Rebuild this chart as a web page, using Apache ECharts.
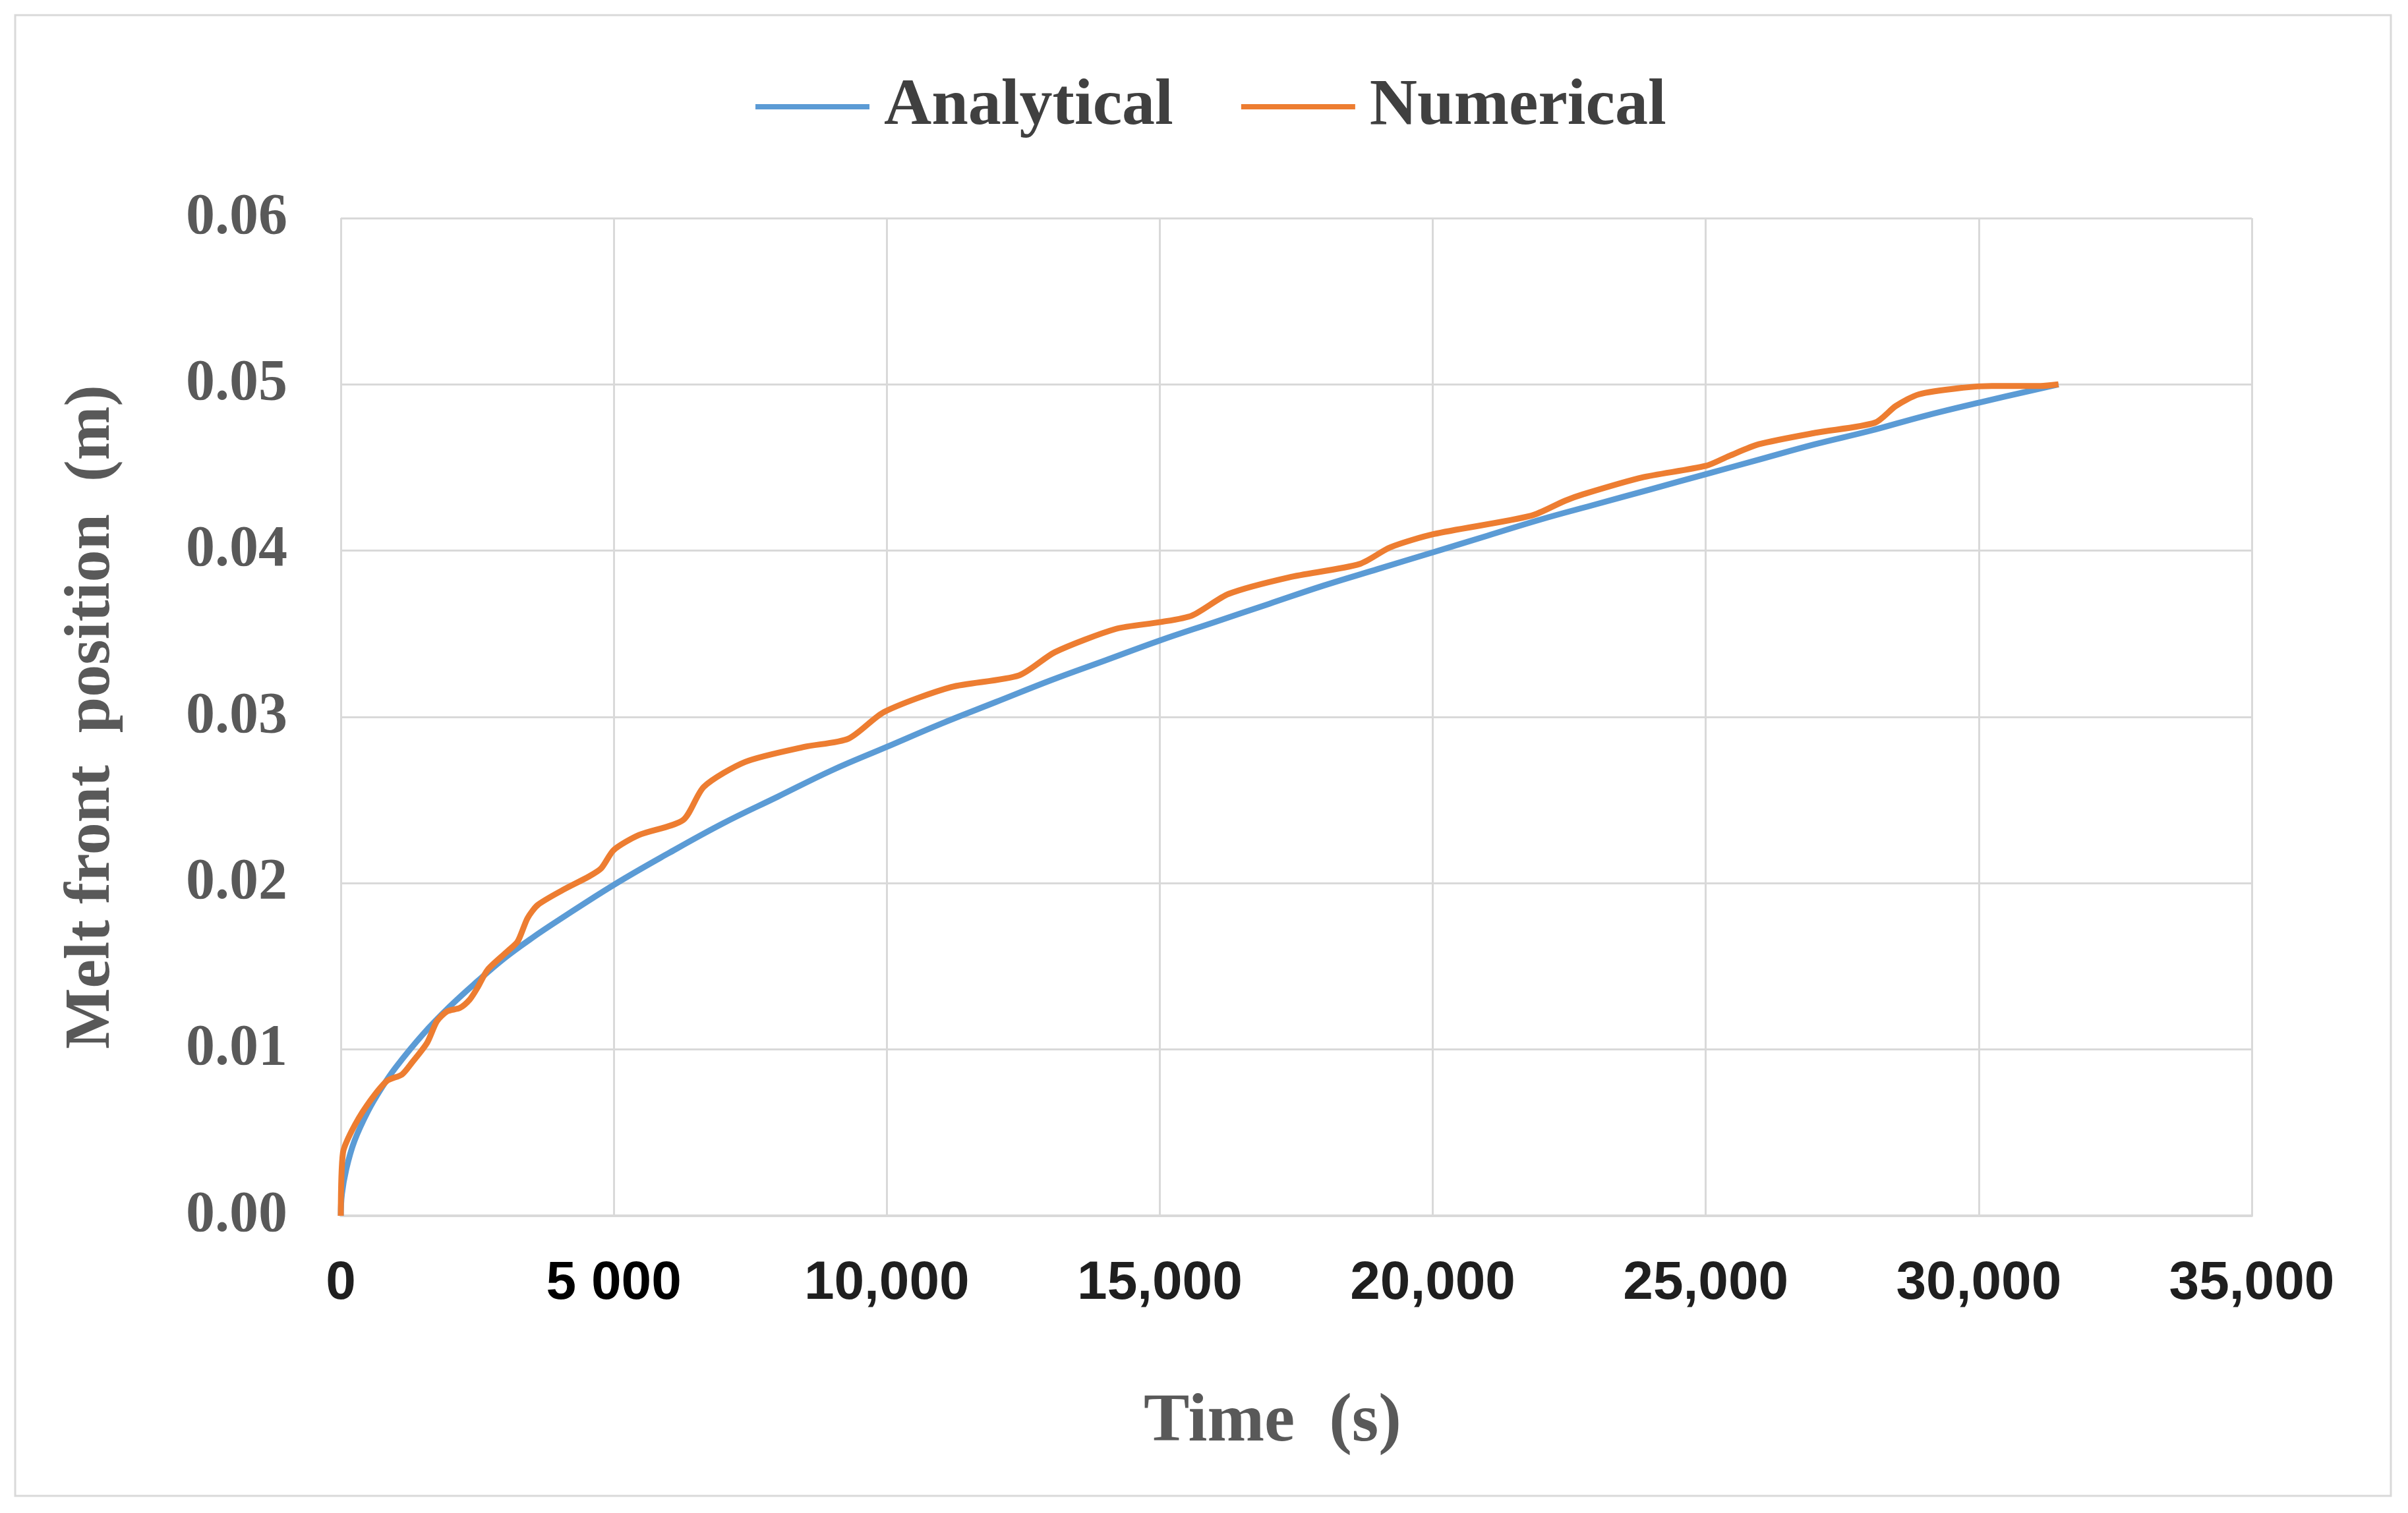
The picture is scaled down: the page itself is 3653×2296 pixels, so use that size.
<!DOCTYPE html>
<html>
<head>
<meta charset="utf-8">
<script src="https://cdn.jsdelivr.net/npm/echarts@6/dist/echarts.min.js"></script>
<style>
html,body{margin:0;padding:0;background:#fff;}
#chart{width:3653px;height:2296px;}
</style>
</head>
<body>
<div id="chart"></div>
<script>
// Tick labels
const xTickLabels = ['0', '5 000', '10,000', '15,000', '20,000', '25,000', '30,000', '35,000'];
const yTickLabels = ['0.00', '0.01', '0.02', '0.03', '0.04', '0.05', '0.06'];

// Analytical series (time s, melt front m)
const analyticalTime = [0, 20, 100, 250, 500, 750, 1000, 1500, 2000, 2500, 3000, 3500, 4000, 5000, 6000, 7000, 8000, 9000, 10000, 11000, 12000, 13000, 14000, 15000, 16000, 17000, 18000, 19000, 20000, 21000, 22000, 23000, 24000, 25000, 26000, 27000, 28000, 29000, 30000, 31460];
const analyticalPos = [0, 0.0013, 0.0028, 0.0045, 0.0063, 0.0077, 0.0089, 0.0109, 0.0126, 0.0141, 0.0155, 0.0167, 0.0178, 0.0199, 0.0218, 0.0236, 0.0252, 0.0268, 0.0282, 0.0296, 0.0309, 0.0322, 0.0334, 0.0346, 0.0357, 0.0368, 0.0379, 0.0389, 0.0399, 0.0409, 0.0419, 0.0428, 0.0437, 0.0446, 0.0455, 0.0464, 0.0472, 0.0481, 0.0489, 0.0500];

// Numerical series
const numericalTime = [0, 40, 200, 470, 840, 1120, 1300, 1580, 1760, 1950, 2180, 2360, 2500, 2690, 3050, 3240, 3420, 3610, 4070, 4540, 4770, 5000, 5460, 6270, 6650, 7410, 8490, 9300, 9950, 11180, 12420, 13080, 14200, 15000, 15590, 16260, 17370, 18660, 19220, 20020, 21800, 22420, 22760, 23830, 25000, 25430, 25970, 27030, 28100, 28480, 28900, 29710, 30240, 31130, 31460];
const numericalPos = [0, 0.0038, 0.0051, 0.0066, 0.0081, 0.0085, 0.0092, 0.0104, 0.0117, 0.0123, 0.0125, 0.0130, 0.0137, 0.0148, 0.0159, 0.0165, 0.0179, 0.0187, 0.0196, 0.0204, 0.0209, 0.0220, 0.0229, 0.0238, 0.0258, 0.0273, 0.0282, 0.0287, 0.0303, 0.0318, 0.0325, 0.0339, 0.0353, 0.0357, 0.0361, 0.0374, 0.0384, 0.0392, 0.0402, 0.0410, 0.0421, 0.0430, 0.0434, 0.0444, 0.0451, 0.0457, 0.0464, 0.0471, 0.0477, 0.0487, 0.0494, 0.0498, 0.0499, 0.0499, 0.0500];

const seriesNames = ['Analytical', 'Numerical'];

function pairs(xs, ys) { return xs.map((x, i) => [x, ys[i]]); }

const chart = echarts.init(document.getElementById('chart'), null, {renderer: 'canvas'});
const grid = '#d9d9d9';
const serif = 'Liberation Serif';

chart.setOption({
  backgroundColor: '#ffffff',
  animation: false,
  graphic: [{
    type: 'rect',
    shape: {x: 23, y: 23, width: 3604, height: 2247},
    style: {fill: 'none', stroke: '#d9d9d9', lineWidth: 3},
    silent: true
  }],
  legend: {
    data: seriesNames,
    left: 1141,
    top: 106,
    icon: 'rect',
    itemWidth: 173,
    itemHeight: 8,
    itemGap: 103,
    textStyle: {
      fontFamily: serif, fontWeight: 'bold', fontSize: 100, color: '#404040',
      lineHeight: 102, padding: [0, 0, 0, 17]
    }
  },
  grid: {left: 517, right: 237, top: 331, bottom: 451, containLabel: false},
  xAxis: {
    type: 'value',
    min: 0, max: 35000, interval: 5000,
    name: 'Time  (s)',
    nameLocation: 'middle',
    nameGap: 262,
    nameTextStyle: {fontFamily: serif, fontWeight: 'bold', fontSize: 104, color: '#595959', padding: [0, 72, 0, 0]},
    axisLine: {show: true, lineStyle: {color: grid, width: 4}},
    axisTick: {show: false},
    splitLine: {show: true, lineStyle: {color: grid, width: 3}},
    axisLabel: {
      margin: 62,
      fontFamily: 'Liberation Sans', fontWeight: 'bold', fontSize: 82, color: '#1f1f1f',
      formatter: function (v) {
        const i = Math.round(v / 5000);
        const s = xTickLabels[i];
        return i === 1 ? '{b|' + s + '}' : s;
      },
      rich: {b: {fontFamily: 'Liberation Sans', fontWeight: 900, fontSize: 82, color: '#000000'}}
    }
  },
  yAxis: {
    type: 'value',
    min: 0, max: 0.06, interval: 0.01,
    name: 'Melt front  position  (m)',
    nameLocation: 'middle',
    nameGap: 328,
    nameTextStyle: {fontFamily: serif, fontWeight: 'bold', fontSize: 98, color: '#595959'},
    axisLine: {show: false},
    axisTick: {show: false},
    splitLine: {show: true, lineStyle: {color: grid, width: 3}},
    axisLabel: {
      margin: 81,
      fontFamily: serif, fontWeight: 'bold', fontSize: 88, color: '#595959',
      formatter: function (v) { return yTickLabels[Math.round(v / 0.01)]; }
    }
  },
  series: [
    {
      name: seriesNames[0], type: 'line', data: pairs(analyticalTime, analyticalPos),
      showSymbol: false, smooth: 0.4,
      lineStyle: {color: '#5B9BD5', width: 9}, itemStyle: {color: '#5B9BD5'}
    },
    {
      name: seriesNames[1], type: 'line', data: pairs(numericalTime, numericalPos),
      showSymbol: false, smooth: 0.25,
      lineStyle: {color: '#ED7D31', width: 9}, itemStyle: {color: '#ED7D31'}
    }
  ]
});
</script>
</body>
</html>
